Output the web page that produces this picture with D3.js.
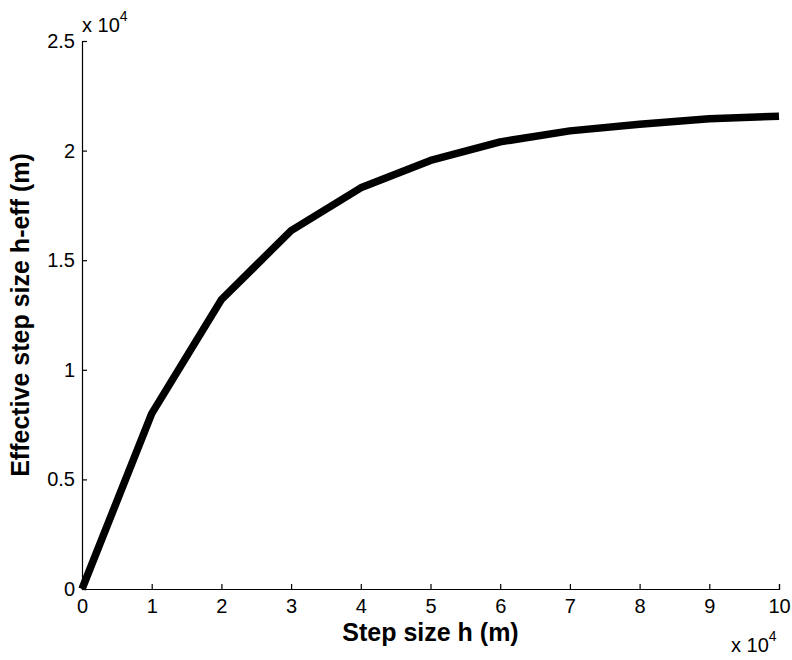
<!DOCTYPE html>
<html>
<head>
<meta charset="utf-8">
<script src="https://cdn.jsdelivr.net/npm/d3@7"></script>
<style>
  body { margin: 0; background: #fff; }
  svg { display: block; font-family: "Liberation Sans", Arial, sans-serif; }
</style>
</head>
<body>
<svg id="chart" width="792" height="660"></svg>
<script>
// Step size h (in units of 1e4 m) and effective step size h-eff (in units of 1e4 m)
const stepSize = [0, 1, 2, 3, 4, 5, 6, 7, 8, 9, 10];
const effectiveStep = [0, 0.80, 1.32, 1.635, 1.83, 1.955, 2.04, 2.09, 2.12, 2.145, 2.157];
const xTicks = [0, 1, 2, 3, 4, 5, 6, 7, 8, 9, 10];
const yTicks = [0, 0.5, 1, 1.5, 2, 2.5];

const svg = d3.select("#chart");
const margin = { left: 82, right: 13, top: 41, bottom: 71 };
const W = 792, H = 660;

const x = d3.scaleLinear().domain([0, 10]).range([margin.left, W - margin.right]);
const y = d3.scaleLinear().domain([0, 2.5]).range([H - margin.bottom, margin.top]);

// Axes: ticks point inward, as in a MATLAB plot
const xAxis = svg.append("g")
  .attr("transform", `translate(0,${y(0)})`)
  .call(d3.axisBottom(x).tickValues(xTicks).tickSize(-5).tickPadding(10).tickFormat(d3.format("d")));
const yAxis = svg.append("g")
  .attr("transform", `translate(${x(0)},0)`)
  .call(d3.axisLeft(y).tickValues(yTicks).tickSize(-5).tickPadding(7).tickFormat(d => String(d)));

[xAxis, yAxis].forEach(g => {
  g.select(".domain").attr("stroke", "#000").attr("stroke-width", 1.2);
  g.selectAll(".tick line").attr("stroke", "#000").attr("stroke-width", 1.2);
  g.selectAll(".tick text").attr("fill", "#000").style("font-size", "20px")
    .style("font-family", "'Liberation Sans', Arial, sans-serif");
});

// Curve
const line = d3.line().x((d, i) => x(stepSize[i])).y(d => y(d));
svg.append("path")
  .datum(effectiveStep)
  .attr("d", line)
  .attr("fill", "none")
  .attr("stroke", "#000")
  .attr("stroke-width", 7.5)
  .attr("stroke-linejoin", "round")
  .attr("stroke-linecap", "butt");

// Exponent labels
const expY = svg.append("text").attr("x", 82).attr("y", 32).style("font-size", "20px");
expY.append("tspan").text("x 10");
expY.append("tspan").attr("dy", -11).style("font-size", "14px").text("4");

const expX = svg.append("text").attr("x", 731).attr("y", 652).style("font-size", "20px");
expX.append("tspan").text("x 10");
expX.append("tspan").attr("dy", -11).style("font-size", "14px").text("4");

// Axis titles
svg.append("text")
  .attr("x", x(5)).attr("y", 641)
  .attr("text-anchor", "middle")
  .style("font-size", "25px").style("font-weight", "bold")
  .text("Step size h (m)");

svg.append("text")
  .attr("transform", `translate(29,${(y(0) + y(2.5)) / 2}) rotate(-90)`)
  .attr("text-anchor", "middle")
  .style("font-size", "25px").style("font-weight", "bold")
  .text("Effective step size h-eff (m)");
</script>
</body>
</html>
